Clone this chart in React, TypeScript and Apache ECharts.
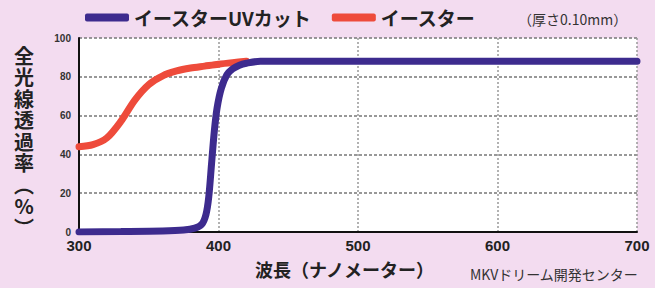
import React, { useEffect, useRef } from "react";
import * as echarts from "echarts";

const uvCutWavelength = [300, 330, 360, 375, 383, 388, 391, 393, 395, 397, 399, 402, 406, 410, 415, 420, 430, 450, 500, 550, 600, 650, 700];
const uvCutValues = [0, 0.2, 0.5, 1, 2, 4, 9, 18, 35, 52, 64, 74, 81, 84, 86, 87, 88, 88, 88, 88, 88, 88, 88];
const esterWavelength = [300, 310, 320, 330, 340, 350, 360, 370, 380, 390, 400, 410, 420];
const esterValues = [44, 45, 48.5, 57, 68, 76, 80.5, 83, 84.5, 85.5, 86.5, 87.3, 88];
const seriesNames = ["イースターUVカット", "イースター"];
const xTicks = [300, 400, 500, 600, 700];
const yTicks = [0, 20, 40, 60, 80, 100];
const yTitleChars = ["全", "光", "線", "透", "過", "率", "︵", "%", "︶"];

const FONT = '"Noto Sans CJK JP", "Noto Sans", sans-serif';

export default function App() {
  const ref = useRef<HTMLDivElement>(null);
  useEffect(() => {
    const chart = echarts.init(ref.current!, null, { renderer: "svg" });
    chart.setOption({
      animation: false,
      backgroundColor: "#f3dcf0",
      textStyle: { fontFamily: FONT },
      grid: {
        left: 79, right: 18, top: 38, bottom: 56,
        show: true, backgroundColor: "#ffffff", borderWidth: 0,
      },
      legend: {
        left: 80, top: 3,
        itemWidth: 44, itemHeight: 8, itemGap: 20,
        icon: "roundRect",
        textStyle: { fontSize: 19, fontWeight: "bold", color: "#222", fontFamily: FONT },
        data: seriesNames,
      },
      xAxis: {
        type: "value", min: xTicks[0], max: xTicks[xTicks.length - 1], interval: 100,
        axisLine: { show: true, lineStyle: { color: "#111", width: 2 } },
        axisTick: { show: false },
        axisLabel: { fontSize: 15, fontWeight: "bold", color: "#222", margin: 6, fontFamily: "Liberation Sans, Arial, sans-serif" },
        splitLine: { show: true, lineStyle: { color: "#999", type: [2, 2], width: 1.5 } },
      },
      yAxis: {
        type: "value", min: yTicks[0], max: yTicks[yTicks.length - 1], interval: 20,
        axisLine: { show: true, lineStyle: { color: "#111", width: 2 } },
        axisTick: { show: false },
        axisLabel: { fontSize: 10, fontWeight: "bold", color: "#333", margin: 8, fontFamily: "Liberation Sans, Arial, sans-serif" },
        splitLine: { show: true, lineStyle: { color: "#777", type: [3, 2], width: 1.5 } },
      },
      series: [
        {
          name: seriesNames[1], type: "line", smooth: 0.3, symbol: "none", z: 2,
          itemStyle: { color: "#ee4b3b" },
          lineStyle: { color: "#ee4b3b", width: 7, cap: "round" },
          data: esterWavelength.map((w, i) => [w, esterValues[i]]),
        },
        {
          name: seriesNames[0], type: "line", smooth: 0.3, symbol: "none", z: 3,
          itemStyle: { color: "#3d2b8e" },
          lineStyle: { color: "#3d2b8e", width: 7, cap: "round" },
          data: uvCutWavelength.map((w, i) => [w, uvCutValues[i]]),
        },
      ],
      graphic: [
        ...yTitleChars.map((c, i) => ({
          type: "text", x: 24, y: 55 + i * 21.5,
          style: {
            text: c, font: `bold 20px ${FONT}`, fill: "#222", lineHeight: 20,
            align: "center", verticalAlign: "middle",
          },
        })),
        {
          type: "text", left: 255, top: 260,
          style: { text: "波長（ナノメーター）", font: `bold 18px ${FONT}`, fill: "#222" },
        },
        {
          type: "text", left: 470, top: 267,
          style: { text: "MKVドリーム開発センター", font: `14px ${FONT}`, fill: "#333" },
        },
        {
          type: "text", left: 518, top: 12,
          style: { text: "（厚さ0.10mm）", font: `14px ${FONT}`, fill: "#333" },
        },
      ],
    });
    return () => chart.dispose();
  }, []);
  return <div ref={ref} style={{ position: "fixed", left: 0, top: 0, width: 655, height: 288 }} />;
}
